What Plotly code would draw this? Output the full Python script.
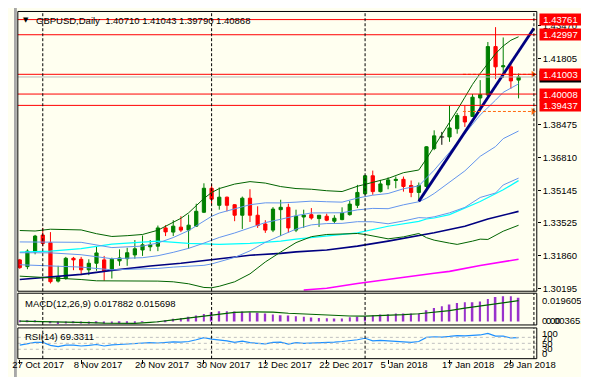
import plotly.graph_objects as go

W, H = 589, 377

# ---------------- data ----------------
date_tick_idx = [0, 8, 16, 24, 32, 40, 48, 56, 64]
date_tick_text = ["27 Oct 2017", "8 Nov 2017", "20 Nov 2017", "30 Nov 2017",
                  "12 Dec 2017", "22 Dec 2017", "5 Jan 2018", "17 Jan 2018", "29 Jan 2018"]

opens = [1.3165, 1.3131, 1.3205, 1.3290, 1.3251, 1.3058, 1.3071, 1.3173, 1.3168, 1.3115,
         1.3148, 1.3165, 1.3115, 1.3160, 1.3171, 1.3190, 1.3215, 1.3231, 1.3234, 1.3326,
         1.3305, 1.3330, 1.3315, 1.3335, 1.3405, 1.3526, 1.3440, 1.3481, 1.3443, 1.3390,
         1.3476, 1.3390, 1.3346, 1.3315, 1.3418, 1.3430, 1.3315, 1.3381, 1.3393, 1.3373,
         1.3385, 1.3360, 1.3368, 1.3393, 1.3440, 1.3498, 1.3589, 1.3509, 1.3543, 1.3565,
         1.3571, 1.3540, 1.3505, 1.3535, 1.3726, 1.37845, 1.37845, 1.3826, 1.3888, 1.3888,
         1.3981, 1.3996, 1.4240, 1.4138, 1.4138, 1.40710]
highs = [1.3170, 1.3218, 1.3291, 1.3326, 1.3305, 1.3135, 1.3180, 1.3180, 1.3180, 1.3168,
         1.3234, 1.3185, 1.3176, 1.3218, 1.3226, 1.3265, 1.3288, 1.3265, 1.3338, 1.3340,
         1.3365, 1.3385, 1.3393, 1.3448, 1.3551, 1.3548, 1.3530, 1.3484, 1.3446, 1.3484,
         1.3521, 1.3435, 1.3365, 1.3431, 1.3468, 1.3448, 1.3418, 1.3418, 1.3426, 1.3390,
         1.3398, 1.3390, 1.3430, 1.3463, 1.3543, 1.3593, 1.3615, 1.3568, 1.3581, 1.3585,
         1.3585, 1.3565, 1.3555, 1.3738, 1.3818, 1.3810, 1.3943, 1.3905, 1.3943, 1.4001,
         1.4071, 1.4263, 1.4338, 1.4286, 1.4153, 1.41043]
lows = [1.3120, 1.3118, 1.3193, 1.3234, 1.3046, 1.3051, 1.3065, 1.3113, 1.3088, 1.3088,
        1.3110, 1.3060, 1.3071, 1.3135, 1.3135, 1.3171, 1.3185, 1.3209, 1.3209, 1.3285,
        1.3285, 1.3305, 1.3221, 1.3331, 1.3401, 1.3443, 1.3418, 1.3410, 1.3360, 1.3321,
        1.3356, 1.3326, 1.3301, 1.3305, 1.3285, 1.3301, 1.3305, 1.3326, 1.3368, 1.3331,
        1.3360, 1.3348, 1.3365, 1.3388, 1.3426, 1.3493, 1.3493, 1.3505, 1.3521, 1.3526,
        1.3509, 1.3481, 1.3460, 1.3526, 1.3718, 1.3745, 1.3760, 1.3801, 1.3835, 1.3885,
        1.3920, 1.3990, 1.4076, 1.4082, 1.4028, 1.39790]
closes = [1.3126, 1.3209, 1.3285, 1.3248, 1.3055, 1.3080, 1.3173, 1.3165, 1.3115, 1.3148,
          1.3200, 1.3110, 1.3168, 1.3175, 1.3201, 1.3221, 1.3241, 1.3241, 1.3326, 1.3306,
          1.3335, 1.3315, 1.3340, 1.3410, 1.3526, 1.3471, 1.3481, 1.3440, 1.3390, 1.3476,
          1.3390, 1.3338, 1.3315, 1.3421, 1.3430, 1.3326, 1.3385, 1.3391, 1.3376, 1.3390,
          1.3365, 1.3375, 1.3401, 1.3446, 1.3505, 1.3589, 1.3509, 1.3548, 1.3568, 1.3571,
          1.3535, 1.3505, 1.3540, 1.3735, 1.3790, 1.37845, 1.3830, 1.3893, 1.3860, 1.3985,
          1.3998, 1.4240, 1.4138, 1.4143, 1.4067, 1.40868]

# Bollinger (20,2) green
bb_up_idx = [0, 2, 4, 6, 8, 10, 12, 14, 16, 18, 20, 21, 22, 23, 24, 25, 26, 28, 30, 32,
             34, 36, 38, 40, 42, 44, 46, 48, 50, 52, 53, 54, 55, 56, 57, 58, 59, 60, 61, 62,
             63, 64, 65]
bb_up_val = [1.33130, 1.33105, 1.33195, 1.33180, 1.33160, 1.32970, 1.32830, 1.32870, 1.32930, 1.33145,
             1.33520, 1.33745, 1.34020, 1.34395, 1.34745, 1.35045, 1.35245, 1.35470, 1.35595, 1.35520,
             1.35345, 1.35245, 1.35210, 1.35135, 1.35095, 1.35360, 1.35570, 1.35755, 1.36045, 1.36180,
             1.36745, 1.37345, 1.37945, 1.38595, 1.39195, 1.39845, 1.40495, 1.41045, 1.41545, 1.42045,
             1.42430, 1.42720, 1.42895]
bb_lo_idx = [0, 2, 4, 6, 8, 10, 12, 16, 18, 20, 22, 24, 25, 26, 28, 30, 32, 34, 36, 38,
             40, 42, 44, 45, 48, 50, 52, 53, 54, 56, 57, 59, 60, 61, 63, 65]
bb_lo_val = [1.30830, 1.30795, 1.30745, 1.30730, 1.30660, 1.30595, 1.30595, 1.30595, 1.30580, 1.30545,
             1.30445, 1.30260, 1.30245, 1.30320, 1.30545, 1.30945, 1.31545, 1.32045, 1.32520, 1.32820,
             1.32930, 1.32955, 1.32980, 1.32930, 1.32710, 1.32810, 1.32980, 1.32770, 1.32645, 1.32495,
             1.32430, 1.32595, 1.32695, 1.32680, 1.33095, 1.33395]
# Bollinger middle + (20,1) bands, cornflower
bb_mid_idx = [0, 4, 8, 12, 16, 18, 20, 22, 24, 25, 26, 28, 30, 32, 34, 36, 38, 40, 42, 44,
              46, 48, 50, 52, 53, 54, 56, 58, 60, 62, 63, 65]
bb_mid_val = [1.32010, 1.32005, 1.31910, 1.31710, 1.31760, 1.31860, 1.32030, 1.32230, 1.32495, 1.32645,
              1.32780, 1.33005, 1.33270, 1.33530, 1.33695, 1.33880, 1.34015, 1.34030, 1.34025, 1.34170,
              1.34245, 1.34230, 1.34425, 1.34580, 1.34755, 1.34995, 1.35545, 1.36135, 1.36870, 1.37360,
              1.37760, 1.38145]
bb1_idx = [0, 8, 12, 16, 18, 20, 22, 24, 25, 26, 28, 30, 32, 34, 36, 38, 40, 42, 44, 46,
           48, 50, 52, 53, 54, 56, 58, 60, 62, 63, 65]
bb1_up_val = [1.32555, 1.32535, 1.32270, 1.32345, 1.32500, 1.32775, 1.33125, 1.33620, 1.33845, 1.34010,
              1.34235, 1.34430, 1.34525, 1.34520, 1.34560, 1.34610, 1.34580, 1.34560, 1.34765, 1.34910,
              1.34995, 1.35235, 1.35380, 1.35750, 1.36170, 1.37070, 1.37990, 1.38955, 1.39700, 1.40095,
              1.40520]
bb1_lo_val = [1.31405, 1.31285, 1.31150, 1.31175, 1.31220, 1.31285, 1.31335, 1.31375, 1.31445, 1.31550,
              1.31775, 1.32105, 1.32535, 1.32870, 1.33200, 1.33415, 1.33480, 1.33490, 1.33575, 1.33570,
              1.33470, 1.33610, 1.33780, 1.33760, 1.33820, 1.34020, 1.34295, 1.34795, 1.35020, 1.35425,
              1.35770]
cyan_idx = [0, 4, 8, 12, 17, 18, 22, 26, 30, 34, 36, 40, 44, 48, 52, 53, 54, 56, 58, 60, 63, 65]
cyan_val = [1.32045, 1.32095, 1.32220, 1.32445, 1.32570, 1.32595, 1.32480, 1.32430, 1.32480, 1.32595,
            1.32695, 1.32845, 1.33010, 1.33345, 1.33595, 1.33710, 1.33760, 1.33930, 1.34260, 1.34595,
            1.35180, 1.35645]
navy_idx = [0, 3, 8, 12, 14, 17, 21, 26, 30, 34, 36, 40, 44, 48, 52, 54, 58, 61, 65]
navy_val = [1.30660, 1.30770, 1.30920, 1.31120, 1.31210, 1.31345, 1.31480, 1.31710, 1.31880, 1.31980,
            1.32055, 1.32145, 1.32345, 1.32595, 1.32880, 1.33020, 1.33345, 1.33710, 1.34095]
mag_idx = [37, 40, 44, 48, 52, 54, 56, 60, 65]
mag_val = [1.30130, 1.30220, 1.30460, 1.30680, 1.30880, 1.30980, 1.31070, 1.31370, 1.31680]

# drawn objects
trend_idx = [52, 67]
trend_val = [1.3460, 1.43325]
level_lines = [1.43761, 1.42997, 1.41003, 1.40008, 1.39437]
level_text = ["1.43761", "1.42997", "1.41003", "1.40008", "1.39437"]
bid_price = 1.40868
bid_text = "1.40868"
arrow_idx = [57.75, 66.9]
arrow_levels = [1.41003, 1.39130]
separator_idx = [3, 25, 45, 67]

price_grid = [1.30195, 1.31860, 1.33525, 1.35145, 1.36810, 1.38475, 1.41805, 1.43470]
price_grid_text = ["1.30195", "1.31860", "1.33525", "1.35145", "1.36810", "1.38475", "1.41805", "1.43470"]

# MACD(12,26,9)
macd_main = [0.0004, 0.0003, 0.0005, 0.0002, -0.0012, -0.0018, -0.0015, -0.0014, -0.0016, -0.0017,
             -0.0014, -0.0016, -0.0015, -0.0012, -0.0009, -0.0006, -0.0003, 0.0000, 0.0002, 0.0010,
             0.0020, 0.0027, 0.0035, 0.0045, 0.0057, 0.0069, 0.0077, 0.0077, 0.0075, 0.0075,
             0.0069, 0.0065, 0.0060, 0.0052, 0.0047, 0.0045, 0.0040, 0.0035, 0.0030, 0.0027,
             0.0025, 0.0022, 0.0022, 0.0032, 0.0035, 0.0040, 0.0047, 0.0052, 0.0055, 0.0060,
             0.0060, 0.0060, 0.0060, 0.0084, 0.0102, 0.0114, 0.0127, 0.0139, 0.0144, 0.0144,
             0.0151, 0.0169, 0.0184, 0.0190, 0.0189, 0.017882]
signal_idx = [0, 3, 6, 9, 11, 13, 15, 17, 18, 20, 22, 24, 26, 28, 30, 33, 35, 37, 40, 43,
              45, 48, 50, 52, 54, 56, 58, 60, 62, 64, 65]
signal_val = [0.0002, 0.0000, -0.0004, -0.0009, -0.0013, -0.0015, -0.0014, -0.0006, -0.0002, 0.0012,
              0.0026, 0.0043, 0.0058, 0.0068, 0.0072, 0.0070, 0.0062, 0.0056, 0.0050, 0.0041,
              0.0040, 0.0044, 0.0051, 0.0058, 0.0068, 0.0082, 0.0100, 0.0116, 0.0135, 0.0152,
              0.015698]
macd_label = "MACD(12,26,9) 0.017882 0.015698"
macd_scale_text = ["0.019605", "0.00", "0.003651"]

# RSI(14)
rsi = [44, 48, 53, 53, 43, 39, 44, 44, 41, 43,
       46, 41, 45, 46, 48, 50, 50, 52, 51, 53,
       55, 54, 56, 62, 69, 64, 62, 58, 53, 57,
       52, 50, 48, 53, 54, 47, 52, 50, 51, 50,
       51, 54, 56, 58, 62, 67, 58, 60, 58, 58,
       55, 53, 56, 70, 72, 71, 73, 76, 75, 76,
       78, 83, 74, 74, 68, 69.3311]
rsi_levels = [30, 50, 70]
rsi_label = "RSI(14) 69.3311"
rsi_scale_text = ["100", "70", "50", "30", "0"]

title_text = "GBPUSD,Daily\u00a0\u00a01.40710 1.41043 1.39790 1.40868"

# ---------------- style / layout ----------------
BG = "#FFFFF0"
GREEN = "#008000"
DKGREEN = "#006400"
RED = "#FF0000"
CORN = "#6495ED"
CYAN = "#00FFFF"
NAVY = "#000080"
MAGENTA = "#FF00FF"
PURPLE = "#9932CC"
DODGER = "#1E90FF"
ORANGE = "#FF6A10"
FONT = "Liberation Sans, Arial, sans-serif"
FS = 9.5

LEFT, RIGHT = 4, 545
MAIN_TOP, MAIN_BOT = 3.5, 285.5
MACD_TOP, MACD_BOT = 287.5, 319.5
RSI_TOP, RSI_BOT = 322.5, 353.5
BAR_PX = 8.0
X0_PX = 6.0  # pixel of bar 0


def px(x):
    return x / W


def py(y):
    return 1 - y / H


x_lo = (LEFT - X0_PX) / BAR_PX
x_hi = (RIGHT - X0_PX) / BAR_PX

# price scale: 2000 px per unit, 1.30195 at y=283
main_rng = [1.30195 - (MAIN_BOT - 283) / 2000, 1.30195 + (283 - MAIN_TOP) / 2000]
k_macd = 0.000745
macd_rng = [-(MACD_BOT - 316) * k_macd, (316 - MACD_TOP) * k_macd]
rsi_rng = [-(RSI_BOT - 353) / 0.3, 100 + (323 - RSI_TOP) / 0.3]

fig = go.Figure()

idx = list(range(len(opens)))
doji = [abs(o - c) < 1e-9 for o, c in zip(opens, closes)]
ci = [i for i in idx if not doji[i]]
fig.add_trace(go.Candlestick(
    x=ci, open=[opens[i] for i in ci], high=[highs[i] for i in ci],
    low=[lows[i] for i in ci], close=[closes[i] for i in ci],
    increasing=dict(line=dict(color=GREEN, width=1), fillcolor=GREEN),
    decreasing=dict(line=dict(color=RED, width=1), fillcolor=RED),
    whiskerwidth=0, hoverinfo="skip", showlegend=False, xaxis="x", yaxis="y"))

dx, dy = [], []
for i in idx:
    if doji[i]:
        dx += [i - 0.3, i + 0.3, None, i, i, None]
        dy += [opens[i], opens[i], None, highs[i], lows[i], None]
fig.add_trace(go.Scatter(x=dx, y=dy, mode="lines", line=dict(color="black", width=1),
                         hoverinfo="skip", showlegend=False))


def add_line(xs, ys, color, width=1.0, yaxis="y", dash=None):
    fig.add_trace(go.Scatter(x=xs, y=ys, mode="lines", yaxis=yaxis,
                             line=dict(color=color, width=width, dash=dash),
                             hoverinfo="skip", showlegend=False))


add_line(mag_idx, mag_val, MAGENTA, 1.6)
add_line(navy_idx, navy_val, NAVY, 1.6)
add_line(cyan_idx, cyan_val, CYAN, 1.2)
add_line(bb_up_idx, bb_up_val, DKGREEN, 1)
add_line(bb_lo_idx, bb_lo_val, DKGREEN, 1)
add_line(bb_mid_idx, bb_mid_val, CORN, 1)
add_line(bb1_idx, bb1_up_val, CORN, 1)
add_line(bb1_idx, bb1_lo_val, CORN, 1)

# trend line
add_line(trend_idx, trend_val, NAVY, 2.8)

# orange dashed arrows
for lv in arrow_levels:
    fig.add_trace(go.Scatter(x=arrow_idx, y=[lv, lv], mode="lines",
                             line=dict(color=ORANGE, width=1, dash="3px,2px"),
                             hoverinfo="skip", showlegend=False))
    fig.add_trace(go.Scatter(x=[arrow_idx[-1]], y=[lv], mode="markers",
                             marker=dict(symbol="triangle-right", size=6, color=ORANGE),
                             hoverinfo="skip", showlegend=False))

# MACD
fig.add_trace(go.Bar(x=idx, y=macd_main, width=0.22, marker=dict(color=PURPLE, line=dict(width=0)),
                     yaxis="y2", hoverinfo="skip", showlegend=False))
add_line(signal_idx, signal_val, DKGREEN, 1.2, yaxis="y2")

# RSI
add_line(idx, rsi, DODGER, 1.2, yaxis="y3")

shapes = []
# left window strip
shapes.append(dict(type="rect", xref="paper", yref="paper", x0=0, x1=px(3), y0=0, y1=1,
                   fillcolor="#A8A8A8", line=dict(width=0), layer="below"))
# horizontal levels
shapes.append(dict(type="line", xref="paper", yref="y", x0=px(LEFT), x1=px(RIGHT),
                   y0=bid_price, y1=bid_price, line=dict(color="#B8B8B8", width=1)))
for lv in level_lines:
    shapes.append(dict(type="line", xref="paper", yref="y", x0=px(LEFT), x1=px(RIGHT),
                       y0=lv, y1=lv, line=dict(color=RED, width=1)))
for lv in rsi_levels:
    shapes.append(dict(type="line", xref="paper", yref="y3", x0=px(LEFT), x1=px(RIGHT),
                       y0=lv, y1=lv, line=dict(color="#C0C0C0", width=1, dash="3px,3px")))
# period separators
for s in separator_idx:
    for top, bot in [(MAIN_TOP, MAIN_BOT), (MACD_TOP, MACD_BOT), (RSI_TOP, RSI_BOT)]:
        shapes.append(dict(type="line", xref="x", yref="paper", x0=s, x1=s,
                           y0=py(bot), y1=py(top),
                           line=dict(color="black", width=1, dash="3px,2px")))
# frames
for top, bot in [(MAIN_TOP, MAIN_BOT), (MACD_TOP, MACD_BOT), (RSI_TOP, RSI_BOT)]:
    shapes.append(dict(type="rect", xref="paper", yref="paper", x0=px(LEFT), x1=px(RIGHT),
                       y0=py(bot), y1=py(top), line=dict(color="black", width=1),
                       fillcolor="rgba(0,0,0,0)"))

ann = []


def text(x, y, t, anchor="left", size=FS, color="black", family=FONT):
    ann.append(dict(x=px(x), y=py(y), xref="paper", yref="paper", text=t, showarrow=False,
                    xanchor=anchor, yanchor="middle", font=dict(family=family, size=size, color=color)))


text(12.5, 12.5, "\u25BC", anchor="center", size=7, family="DejaVu Sans")
text(20.5, 13, title_text)
text(9, 297.5, macd_label)
text(9, 331.5, rsi_label)

# MACD scale
text(548, 294.5, macd_scale_text[0])
text(553, 315, macd_scale_text[2])
text(548, 315, macd_scale_text[1])
# RSI scale
for t, yy in zip(rsi_scale_text, [328, 333, 338, 343.5, 348.5]):
    text(548, yy, t)

# price boxes
ann.append(dict(x=px(547), y=bid_price, xref="paper", yref="y", text=bid_text, showarrow=False,
                xanchor="left", yanchor="middle", width=41, height=11, borderpad=0,
                bgcolor="black", font=dict(family=FONT, size=FS, color="white")))
for lv, t in zip(level_lines, level_text):
    ann.append(dict(x=px(547), y=lv, xref="paper", yref="y", text=t, showarrow=False,
                    xanchor="left", yanchor="middle", width=41, height=11, borderpad=0,
                    bgcolor=RED, font=dict(family=FONT, size=FS, color="white")))

axis_common = dict(showgrid=False, zeroline=False, showline=False, fixedrange=True)

fig.update_layout(
    width=W, height=H, margin=dict(l=0, r=0, t=0, b=0),
    paper_bgcolor=BG, plot_bgcolor=BG, showlegend=False,
    boxgap=0.4,
    xaxis=dict(domain=[px(LEFT), px(RIGHT)], range=[x_lo, x_hi], anchor="y3",
               tickvals=date_tick_idx, ticktext=date_tick_text, ticks="outside", ticklen=4,
               tickcolor="black", tickwidth=1, ticklabelposition="outside right", tickangle=0,
               ticklabelstandoff=-3, ticklabelshift=-8, ticklabeloverflow="allow",
               tickfont=dict(family=FONT, size=FS, color="black"),
               rangeslider=dict(visible=False), **axis_common),
    yaxis=dict(domain=[py(MAIN_BOT), py(MAIN_TOP)], range=main_rng, side="right", anchor="x",
               tickvals=price_grid, ticktext=price_grid_text, ticks="outside", ticklen=3,
               tickcolor="black", tickfont=dict(family=FONT, size=FS, color="black"),
               **axis_common),
    yaxis2=dict(domain=[py(MACD_BOT), py(MACD_TOP)], range=macd_rng, anchor="x",
                showticklabels=False, ticks="", **axis_common),
    yaxis3=dict(domain=[py(RSI_BOT), py(RSI_TOP)], range=rsi_rng, anchor="x",
                showticklabels=False, ticks="", **axis_common),
    shapes=shapes, annotations=ann,
)

fig.write_html("out.html")
